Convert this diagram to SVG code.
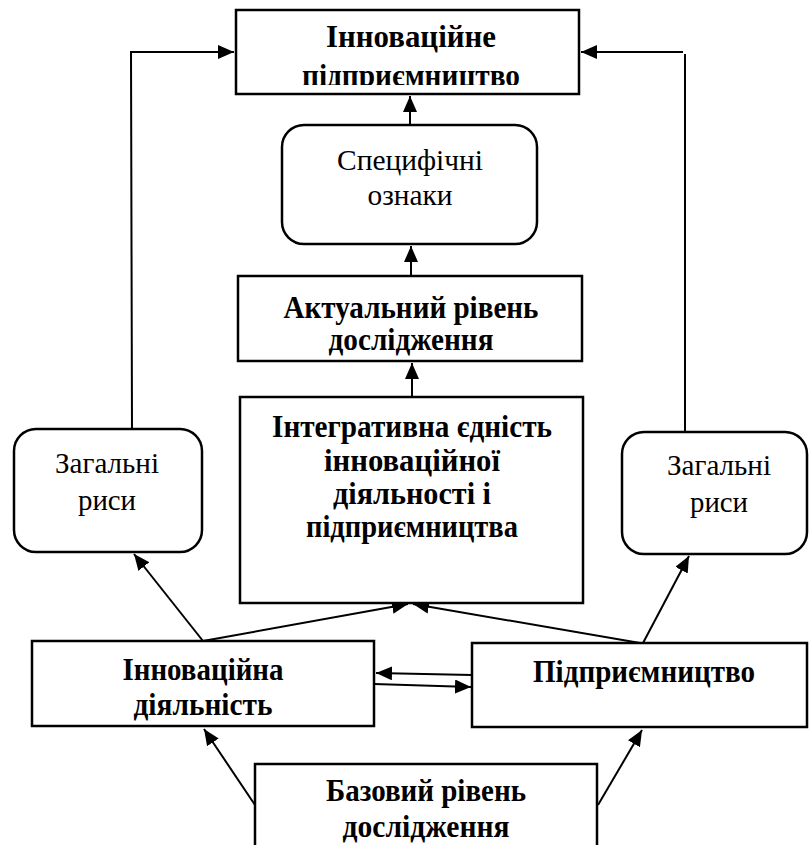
<svg xmlns="http://www.w3.org/2000/svg" width="810" height="845" viewBox="0 0 810 845">
<style>
.box{fill:#fff;stroke:#000;stroke-width:2.5}
.b{font-family:"Liberation Serif","Times New Roman",serif;font-weight:bold;font-size:31px;fill:#000;text-anchor:middle}
.r{font-family:"Liberation Serif","Times New Roman",serif;font-size:30px;fill:#000;text-anchor:middle}
.c{fill:none;stroke:#000;stroke-width:2}
</style>
<defs>
<marker id="ah" markerUnits="userSpaceOnUse" markerWidth="17" markerHeight="15" refX="16" refY="7" orient="auto">
<path d="M0,0 L16,7 L0,14 z" fill="#000"/>
</marker>
<clipPath id="topclip"><rect x="236" y="10" width="343" height="75"/></clipPath>
</defs>
<rect width="810" height="845" fill="#fff"/>
<g id="connectors">
<polyline class="c" points="132,429 131,52 234,52" marker-end="url(#ah)"/>
<polyline class="c" points="685,432 685,54"/>
<line class="c" x1="683" y1="52" x2="581" y2="52" marker-end="url(#ah)"/>
<line class="c" x1="410" y1="125" x2="410" y2="96" marker-end="url(#ah)"/>
<line class="c" x1="411" y1="276" x2="411" y2="246" marker-end="url(#ah)"/>
<line class="c" x1="412" y1="397" x2="412" y2="363" marker-end="url(#ah)"/>
<line class="c" x1="203" y1="641" x2="408" y2="604" marker-end="url(#ah)"/>
<line class="c" x1="640" y1="643" x2="413" y2="604" marker-end="url(#ah)"/>
<line class="c" x1="203" y1="641" x2="134" y2="554" marker-end="url(#ah)"/>
<line class="c" x1="643" y1="643" x2="689" y2="556" marker-end="url(#ah)"/>
<line class="c" x1="472" y1="675" x2="376" y2="673" marker-end="url(#ah)"/>
<line class="c" x1="374" y1="684" x2="471" y2="687" marker-end="url(#ah)"/>
<line class="c" x1="255" y1="805" x2="204" y2="729" marker-end="url(#ah)"/>
<line class="c" x1="598" y1="805" x2="642" y2="730" marker-end="url(#ah)"/>
</g>
<g id="node-top">
<rect class="box" x="236" y="10" width="343" height="84"/>
<g clip-path="url(#topclip)">
<text class="b" x="411" y="47" textLength="170" lengthAdjust="spacingAndGlyphs">Інноваційне</text>
<text class="b" x="411" y="86" textLength="218" lengthAdjust="spacingAndGlyphs">підприємництво</text>
</g>
</g>
<g id="node-spec">
<rect class="box" x="282" y="125" width="255" height="119" rx="22"/>
<text class="r" x="410" y="170" textLength="146" lengthAdjust="spacingAndGlyphs">Специфічні</text>
<text class="r" x="410" y="205" textLength="85" lengthAdjust="spacingAndGlyphs">ознаки</text>
</g>
<g id="node-actual">
<rect class="box" x="238" y="276" width="344" height="85"/>
<text class="b" x="411" y="318" textLength="255" lengthAdjust="spacingAndGlyphs">Актуальний рівень</text>
<text class="b" x="411" y="350" textLength="165" lengthAdjust="spacingAndGlyphs">дослідження</text>
</g>
<g id="node-integr">
<rect class="box" x="240" y="397" width="343" height="206"/>
<text class="b" x="412" y="437" textLength="280" lengthAdjust="spacingAndGlyphs">Інтегративна єдність</text>
<text class="b" x="412" y="471" textLength="176" lengthAdjust="spacingAndGlyphs">інноваційної</text>
<text class="b" x="412" y="504" textLength="158" lengthAdjust="spacingAndGlyphs">діяльності і</text>
<text class="b" x="412" y="537" textLength="212" lengthAdjust="spacingAndGlyphs">підприємництва</text>
</g>
<g id="node-left-general">
<rect class="box" x="14" y="429" width="188" height="123" rx="22"/>
<text class="r" x="107" y="473" textLength="104" lengthAdjust="spacingAndGlyphs">Загальні</text>
<text class="r" x="107" y="510" textLength="58" lengthAdjust="spacingAndGlyphs">риси</text>
</g>
<g id="node-right-general">
<rect class="box" x="622" y="432" width="185" height="122" rx="22"/>
<text class="r" x="719" y="475" textLength="104" lengthAdjust="spacingAndGlyphs">Загальні</text>
<text class="r" x="719" y="512" textLength="58" lengthAdjust="spacingAndGlyphs">риси</text>
</g>
<g id="node-innov">
<rect class="box" x="32" y="641" width="342" height="85"/>
<text class="b" x="203" y="680" textLength="161" lengthAdjust="spacingAndGlyphs">Інноваційна</text>
<text class="b" x="203" y="715" textLength="139" lengthAdjust="spacingAndGlyphs">діяльність</text>
</g>
<g id="node-entr">
<rect class="box" x="472" y="643" width="335" height="84"/>
<text class="b" x="644" y="682" textLength="222" lengthAdjust="spacingAndGlyphs">Підприємництво</text>
</g>
<g id="node-base">
<rect class="box" x="255" y="764" width="342" height="90"/>
<text class="b" x="426" y="801" textLength="200" lengthAdjust="spacingAndGlyphs">Базовий рівень</text>
<text class="b" x="426" y="837" textLength="167" lengthAdjust="spacingAndGlyphs">дослідження</text>
</g>
</svg>
